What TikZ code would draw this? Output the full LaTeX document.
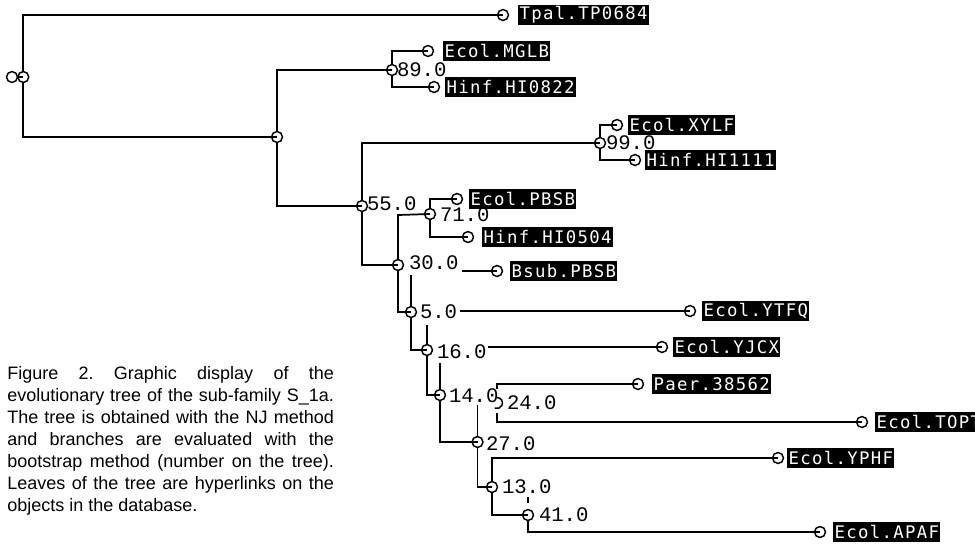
\documentclass[tikz,border=0pt]{standalone}
\usepackage{fontspec}
\setmainfont{Liberation Sans}
\newfontfamily\boxfont{DejaVu Sans Mono}
\newfontfamily\numfont{Liberation Mono}
\ExplSyntaxOn
\NewDocumentCommand\spaced{m}{\tl_map_inline:nn{#1}{\makebox[8.8pt]{##1}}}
\NewDocumentCommand\numcells{m}{\tl_map_inline:nn{#1}{\makebox[9.2pt]{##1}}}
\ExplSyntaxOff
\frenchspacing
\tikzset{
  treeline/.style={line width=1.3pt},
  knot/.style={circle, draw, line width=1.1pt, minimum size=8.2pt, inner sep=0pt},
  leafbox/.style={fill=black, text=white, font=\boxfont\fontsize{13pt}{14pt}\selectfont,
    inner xsep=0.6pt, inner ysep=0pt, minimum height=14.5pt, anchor=west},
  num/.style={font=\numfont\fontsize{15.5pt}{17pt}\selectfont, inner sep=0pt, anchor=west},
  caption/.style={font=\fontsize{13.5pt}{16.5pt}\selectfont, inner sep=0pt, align=left, anchor=north west}
}
\begin{document}
\begin{tikzpicture}[x=0.75pt,y=-0.75pt]
\useasboundingbox (0,0) rectangle (975,544);
\fill[white] (0,0) rectangle (975,544);

% internal nodes
\node[knot] (root) at (23.3,77) {};
\node[knot] (rootL) at (12,77) {};
\node[knot] (n1) at (277,137) {};
\node[knot] (n89) at (392,70) {};
\node[knot] (n55) at (362,206) {};
\node[knot] (n99) at (600,143) {};
\node[knot] (n71) at (430,214) {};
\node[knot] (n30) at (398,265) {};
\node[knot] (n5) at (411,312) {};
\node[knot] (n16) at (427,350) {};
\node[knot] (n14) at (440,395) {};
\coordinate (n24) at (497,403);
\node[knot] (n27) at (477.5,442) {};
\node[knot] (n13) at (492,487) {};
\node[knot] (n41) at (528,515) {};

% number labels
\node[num] (l89) at (397,70) {\numcells{89.0}};
\node[num] (l55) at (367,204) {\numcells{55.0}};
\node[num] (l99) at (606,143) {\numcells{99.0}};
\node[num] (l71) at (440,215) {\numcells{71.0}};
\node[num] (l30) at (409,263) {\numcells{30.0}};
\node[num] (l5) at (420,312) {\numcells{5.0}};
\node[num] (l16) at (437,352) {\numcells{16.0}};
\node[num] (l14) at (449,396) {\numcells{14.0}};
\node[num] (l24) at (507,403) {\numcells{24.0}};
\node[num] (l27) at (486,444) {\numcells{27.0}};
\node[num] (l13) at (502,487) {\numcells{13.0}};
\node[num] (l41) at (539,515) {\numcells{41.0}};

% leaf circles
\node[knot] (cTpal) at (503,15) {};
\node[knot] (cMGLB) at (428,51) {};
\node[knot] (cHIa) at (434,87) {};
\node[knot] (cXYLF) at (617,125) {};
\node[knot] (cHIb) at (635,160) {};
\node[knot] (cRBSB) at (457,199) {};
\node[knot] (cHIc) at (468,237) {};
\node[knot] (cBSB) at (497,271) {};
\node[knot] (cYTFQ) at (690,311) {};
\node[knot] (cYJCX) at (662,347) {};
\node[knot] (cPaer) at (638,384) {};
\node[knot] (cTOPT) at (862,422) {};
\node[knot] (cYPHF) at (778,458) {};
\node[knot] (cAPAF) at (820,532) {};

% leaf labels
\node[leafbox] (bTpal) at (518,15) {\spaced{Tpal.TP0684}};
\node[leafbox] (bMGLB) at (443,51) {\spaced{Ecol.MGLB}};
\node[leafbox] (bHIa) at (445,87) {\spaced{Hinf.HI0822}};
\node[leafbox] (bXYLF) at (628,125) {\spaced{Ecol.XYLF}};
\node[leafbox] (bHIb) at (645,160) {\spaced{Hinf.HI1111}};
\node[leafbox] (bRBSB) at (469,199) {\spaced{Ecol.PBSB}};
\node[leafbox] (bHIc) at (482,237) {\spaced{Hinf.HI0504}};
\node[leafbox] (bBSB) at (510,271) {\spaced{Bsub.PBSB}};
\node[leafbox] (bYTFQ) at (702,311) {\spaced{Ecol.YTFQ}};
\node[leafbox] (bYJCX) at (673,347) {\spaced{Ecol.YJCX}};
\node[leafbox] (bPaer) at (652,384) {\spaced{Paer.38562}};
\node[leafbox] (bTOPT) at (875,422) {\spaced{Ecol.TOPT}};
\node[leafbox] (bYPHF) at (787,458) {\spaced{Ecol.YPHF}};
\node[leafbox] (bAPAF) at (833,532) {\spaced{Ecol.APAF}};

% helper coordinates
\coordinate (tl) at (23.3,15);
\coordinate (bl) at (23.3,137);
\coordinate (rdash) at (17.5,77);
\coordinate (n1u) at (277,70);
\coordinate (n1d) at (277,206);
\coordinate (n89u) at (392,51);
\coordinate (n89d) at (392,87);
\coordinate (n55u) at (362,143);
\coordinate (n55d) at (362,265);
\coordinate (n99u) at (600,125);
\coordinate (n99d) at (600,160);
\coordinate (n30u) at (398,215);
\coordinate (n30d) at (398,312);
\coordinate (n30r) at (462,271);
\coordinate (n71u) at (430,199);
\coordinate (n71d) at (430,237);
\coordinate (n5u) at (411,275);
\coordinate (n5r) at (460,311);
\coordinate (n5d) at (411,350);
\coordinate (n16u) at (427,325);
\coordinate (n16r) at (488,347);
\coordinate (n16d) at (427,395);
\coordinate (n14u) at (440,363);
\coordinate (n14d) at (440,442);
\coordinate (n24t) at (497,389);
\coordinate (n24u) at (497,384);
\coordinate (n24b) at (497,413);
\coordinate (n24d) at (497,422);
\coordinate (n27u) at (477.5,405);
\coordinate (n27d) at (477.5,487);
\coordinate (n13u) at (492,458);
\coordinate (n13d) at (492,515);
\coordinate (n41t) at (528,497);
\coordinate (n41s) at (528,503);
\coordinate (n41d) at (528,532);

% connectors
\begin{scope}[treeline]
\draw (rdash) -- (root.center);
\draw (root) -- (tl) -- (cTpal.center);
\draw (root) -- (bl) -- (n1.center);
\draw (n1) -- (n1u) -- (n89.center);
\draw (n1) -- (n1d) -- (n55.center);
\draw (n89) -- (n89u) -- (cMGLB.center);
\draw (n89) -- (n89d) -- (cHIa.center);
\draw (n55) -- (n55u) -- (n99.center);
\draw (n55) -- (n55d) -- (n30.center);
\draw (n99) -- (n99u) -- (cXYLF.center);
\draw (n99) -- (n99d) -- (cHIb.center);
\draw (n30) -- (n30u) -- (n71.center);
\draw (n30) -- (n30d) -- (n5.center);
\draw (n30r) -- (cBSB.center);
\draw (n71) -- (n71u) -- (cRBSB.center);
\draw (n71) -- (n71d) -- (cHIc.center);
\draw (n5) -- (n5u);
\draw (n5r) -- (cYTFQ.center);
\draw (n5) -- (n5d) -- (n16.center);
\draw (n16) -- (n16u);
\draw (n16r) -- (cYJCX.center);
\draw (n16) -- (n16d) -- (n14.center);
\draw (n14) -- (n14u);
\draw (n14) -- (n14d) -- (n27.center);
\draw (n24t) -- (n24u) -- (cPaer.center);
\draw (n24b) -- (n24d) -- (cTOPT.center);
\draw (n27) -- (n27u);
\draw (n27) -- (n27d) -- (n13.center);
\draw (n13) -- (n13u) -- (cYPHF.center);
\draw (n13) -- (n13d) -- (n41.center);
\draw (n41t) -- (n41s);
\draw (n41) -- (n41d) -- (cAPAF.center);
\end{scope}
\draw[line width=1.1pt] ([shift={(115:5.5)}]n24) arc[start angle=115, end angle=-90, radius=5.5];

% caption
\node[caption] (cap) at (7,366) {%
\makebox[245pt][s]{Figure 2. Graphic display of the}\\
\makebox[245pt][s]{evolutionary tree of the sub-family S\_1a.}\\
\makebox[245pt][s]{The tree is obtained with the NJ method}\\
\makebox[245pt][s]{and branches are evaluated with the}\\
\makebox[245pt][s]{bootstrap method (number on the tree).}\\
\makebox[245pt][s]{Leaves of the tree are hyperlinks on the}\\
objects in the database.};
\end{tikzpicture}
\end{document}
